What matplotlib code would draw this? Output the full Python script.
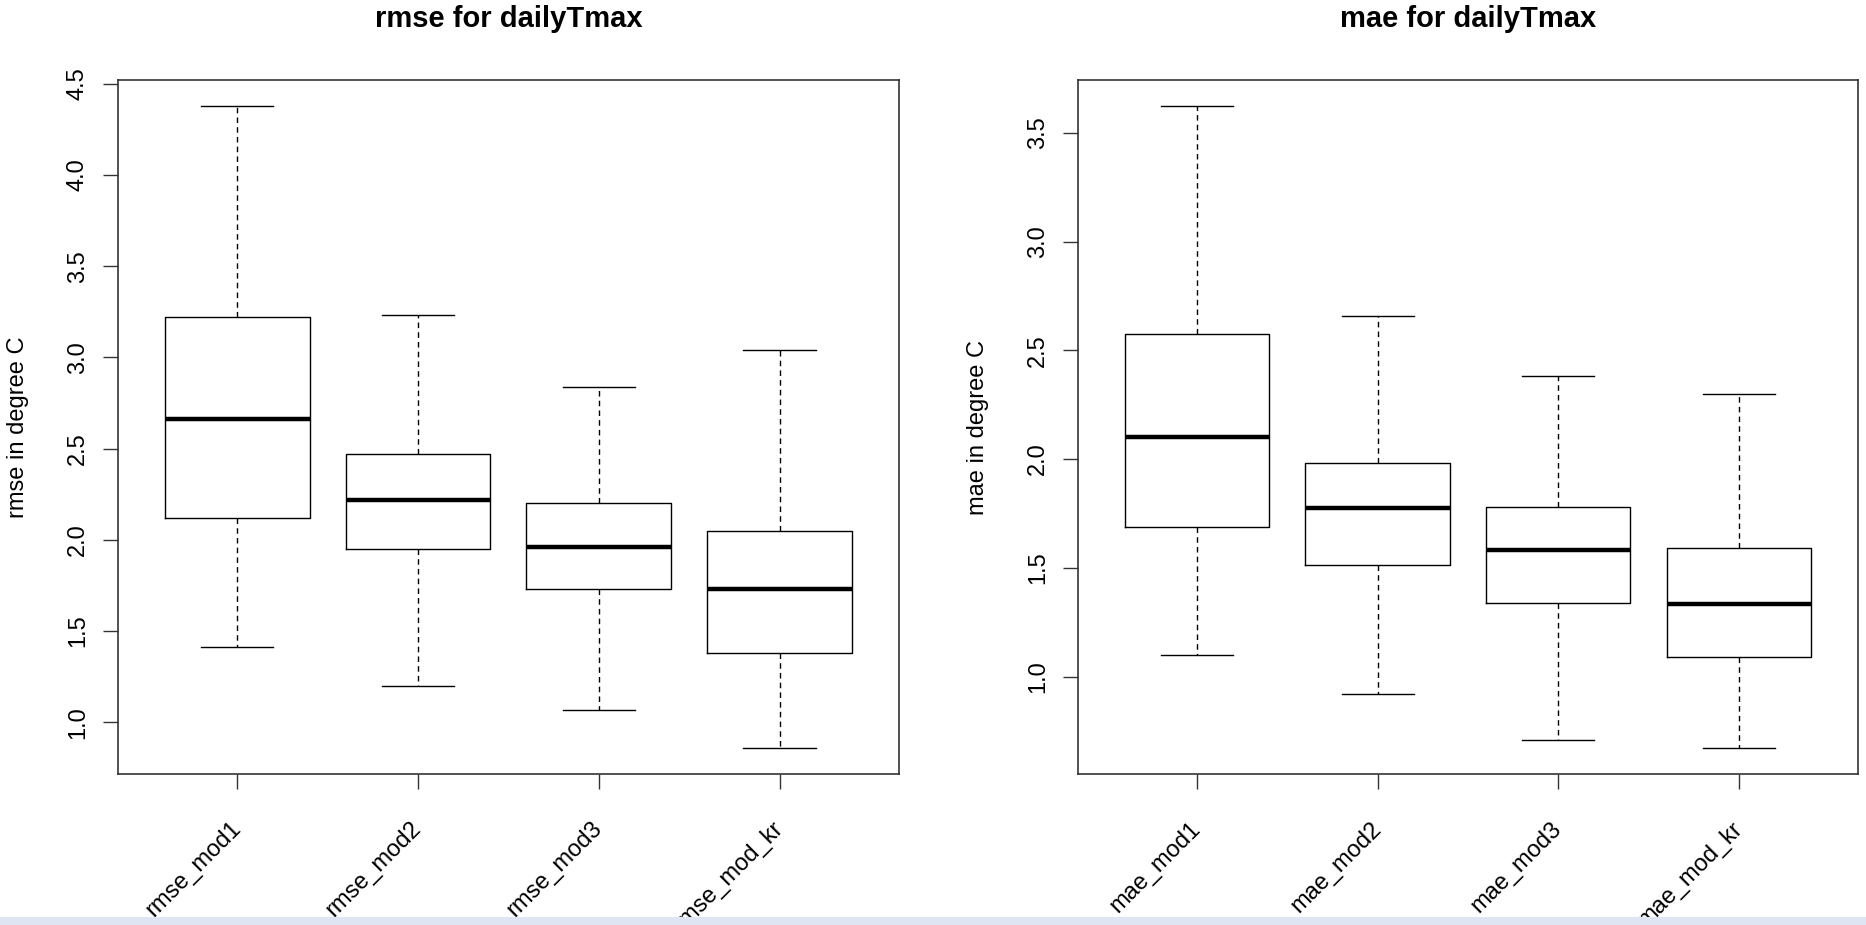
import numpy as np
import matplotlib
matplotlib.use("Agg")
import matplotlib.pyplot as plt
from matplotlib.patches import Rectangle

plt.rcParams["font.family"] = ["Liberation Sans", "DejaVu Sans"]

# five-number summaries per model (lower whisker, Q1, median, Q3, upper whisker)
rmse_labels = ["rmse_mod1", "rmse_mod2", "rmse_mod3", "rmse_mod_kr"]
rmse_lo = [1.41, 1.20, 1.065, 0.857]
rmse_q1 = [2.12, 1.95, 1.73, 1.38]
rmse_med = [2.66, 2.22, 1.96, 1.73]
rmse_q3 = [3.22, 2.47, 2.20, 2.05]
rmse_hi = [4.38, 3.23, 2.84, 3.04]

mae_labels = ["mae_mod1", "mae_mod2", "mae_mod3", "mae_mod_kr"]
mae_lo = [1.10, 0.92, 0.71, 0.67]
mae_q1 = [1.69, 1.515, 1.34, 1.09]
mae_med = [2.10, 1.775, 1.58, 1.335]
mae_q3 = [2.575, 1.98, 1.78, 1.59]
mae_hi = [3.625, 2.66, 2.38, 2.30]

rmse_ticks = [1.0, 1.5, 2.0, 2.5, 3.0, 3.5, 4.0, 4.5]
mae_ticks = [1.0, 1.5, 2.0, 2.5, 3.0, 3.5]

FS = 17


def draw_panel(ax, labels, lo, q1, med, q3, hi, ticks, title, ylabel):
    stats = [
        dict(whislo=a, q1=b, med=c, q3=d, whishi=e, fliers=[])
        for a, b, c, d, e in zip(lo, q1, med, q3, hi)
    ]
    pos = np.arange(1, len(labels) + 1)
    ax.bxp(
        stats,
        positions=pos,
        widths=0.8,
        showfliers=False,
        boxprops=dict(color="black", linewidth=1.0),
        medianprops=dict(color="black", linewidth=3.2, solid_capstyle="butt"),
        whiskerprops=dict(color="black", linewidth=1.0, linestyle=(0, (4, 3))),
        capprops=dict(color="black", linewidth=1.0),
    )
    # R-style 4% padding around the data range
    ymin, ymax = min(lo), max(hi)
    pad = 0.04 * (ymax - ymin)
    ax.set_ylim(ymin - pad, ymax + pad)
    ax.set_xlim(0.5 - 0.16, len(labels) + 0.5 + 0.16)

    ax.set_yticks(ticks)
    ax.set_yticklabels([f"{t:.1f}" for t in ticks], rotation=90, va="center",
                       fontsize=FS)
    ax.set_xticks(pos)
    ax.set_xticklabels(labels, rotation=45, ha="right", va="center",
                       rotation_mode="anchor", fontsize=FS)
    ax.tick_params(axis="y", length=11, width=1.0, pad=10, color="#333333")
    ax.tick_params(axis="x", length=11, width=1.0, pad=26, color="#333333")

    for s in ax.spines.values():
        s.set_linewidth(1.2)
        s.set_color("#333333")

    ax.set_title(title, fontsize=21, fontweight="bold", pad=38)
    ax.set_ylabel(ylabel, fontsize=FS)
    ax.yaxis.set_label_coords(-0.114, 0.5)


fig = plt.figure(figsize=(18.66, 9.25), dpi=100)
ax1 = fig.add_axes([0.0632, 0.1632, 0.4185, 0.7503])
ax2 = fig.add_axes([0.5777, 0.1632, 0.418, 0.7503])

draw_panel(ax1, rmse_labels, rmse_lo, rmse_q1, rmse_med, rmse_q3, rmse_hi,
           rmse_ticks, "rmse for dailyTmax", "rmse in degree C")
draw_panel(ax2, mae_labels, mae_lo, mae_q1, mae_med, mae_q3, mae_hi,
           mae_ticks, "mae for dailyTmax", "mae in degree C")

# thin strip along the bottom edge
fig.patches.append(Rectangle((0, 0), 1, 8 / 925, transform=fig.transFigure,
                             facecolor="#dfe5f3", edgecolor="none", zorder=10))

fig.savefig("out.png", dpi=100)
